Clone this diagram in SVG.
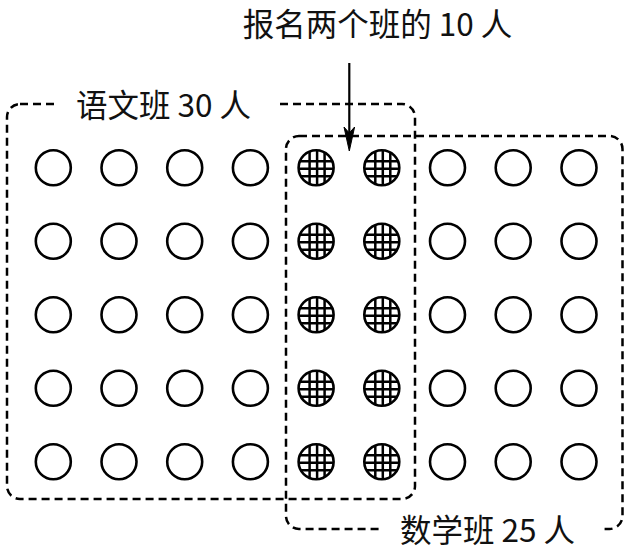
<svg xmlns="http://www.w3.org/2000/svg" xmlns:xlink="http://www.w3.org/1999/xlink" width="628" height="554" viewBox="0 0 628 554">
<style>
.box{fill:none;stroke:#000;stroke-width:2.5;stroke-dasharray:8 5}
.c{fill:none;stroke:#000;stroke-width:2.6}
.h{fill:none;stroke:#000;stroke-width:2.5}
.lbl{font-family:"Noto Sans CJK SC","Noto Sans",sans-serif;font-size:31.5px;fill:#111;text-anchor:middle}
.conn{stroke:#000;stroke-width:2.2;fill:none}
</style>
<defs>
<clipPath id="cc"><circle cx="0" cy="0" r="17.5"/></clipPath>
<g id="plain"><circle cx="0" cy="0" r="17.5" class="c"/></g>
<g id="hatched"><g clip-path="url(#cc)"><path class="h" d="M-6.5,-20V20M1,-20V20M8.5,-20V20M-20,-6.5H20M-20,1H20M-20,8.5H20"/></g><circle cx="0" cy="0" r="17.5" class="c"/></g>
</defs>
<rect width="628" height="554" fill="#fff"/>
<g id="chinese-class">
<rect class="box" x="7" y="104" width="408" height="395" rx="13"/>
<rect x="57" y="86" width="219" height="34" fill="#fff"/>
<text class="lbl" x="163.5" y="117">语文班 30 人</text>
</g>
<g id="math-class">
<rect class="box" x="286" y="136" width="336.5" height="393" rx="13"/>
<rect x="380" y="511" width="220" height="40" fill="#fff"/>
<text class="lbl" x="487.5" y="542">数学班 25 人</text>
</g>
<g id="both-label">
<text class="lbl" x="377.5" y="36">报名两个班的 10 人</text>
</g>
<g id="connectors">
<path class="conn" d="M349.3,63V134"/>
<path d="M349.3,151L344,127L349.3,133L354.6,127Z" fill="#000" stroke="#000" stroke-width="1"/>
</g>
<g id="r1c1" transform="translate(53.3,167.7)"><use xlink:href="#plain"/></g>
<g id="r1c2" transform="translate(119,167.7)"><use xlink:href="#plain"/></g>
<g id="r1c3" transform="translate(184.7,167.7)"><use xlink:href="#plain"/></g>
<g id="r1c4" transform="translate(250.4,167.7)"><use xlink:href="#plain"/></g>
<g id="r1c5" transform="translate(316.1,167.7)"><use xlink:href="#hatched"/></g>
<g id="r1c6" transform="translate(381.8,167.7)"><use xlink:href="#hatched"/></g>
<g id="r1c7" transform="translate(447.5,167.7)"><use xlink:href="#plain"/></g>
<g id="r1c8" transform="translate(513.2,167.7)"><use xlink:href="#plain"/></g>
<g id="r1c9" transform="translate(579,167.7)"><use xlink:href="#plain"/></g>
<g id="r2c1" transform="translate(53.3,241.2)"><use xlink:href="#plain"/></g>
<g id="r2c2" transform="translate(119,241.2)"><use xlink:href="#plain"/></g>
<g id="r2c3" transform="translate(184.7,241.2)"><use xlink:href="#plain"/></g>
<g id="r2c4" transform="translate(250.4,241.2)"><use xlink:href="#plain"/></g>
<g id="r2c5" transform="translate(316.1,241.2)"><use xlink:href="#hatched"/></g>
<g id="r2c6" transform="translate(381.8,241.2)"><use xlink:href="#hatched"/></g>
<g id="r2c7" transform="translate(447.5,241.2)"><use xlink:href="#plain"/></g>
<g id="r2c8" transform="translate(513.2,241.2)"><use xlink:href="#plain"/></g>
<g id="r2c9" transform="translate(579,241.2)"><use xlink:href="#plain"/></g>
<g id="r3c1" transform="translate(53.3,314.7)"><use xlink:href="#plain"/></g>
<g id="r3c2" transform="translate(119,314.7)"><use xlink:href="#plain"/></g>
<g id="r3c3" transform="translate(184.7,314.7)"><use xlink:href="#plain"/></g>
<g id="r3c4" transform="translate(250.4,314.7)"><use xlink:href="#plain"/></g>
<g id="r3c5" transform="translate(316.1,314.7)"><use xlink:href="#hatched"/></g>
<g id="r3c6" transform="translate(381.8,314.7)"><use xlink:href="#hatched"/></g>
<g id="r3c7" transform="translate(447.5,314.7)"><use xlink:href="#plain"/></g>
<g id="r3c8" transform="translate(513.2,314.7)"><use xlink:href="#plain"/></g>
<g id="r3c9" transform="translate(579,314.7)"><use xlink:href="#plain"/></g>
<g id="r4c1" transform="translate(53.3,388.2)"><use xlink:href="#plain"/></g>
<g id="r4c2" transform="translate(119,388.2)"><use xlink:href="#plain"/></g>
<g id="r4c3" transform="translate(184.7,388.2)"><use xlink:href="#plain"/></g>
<g id="r4c4" transform="translate(250.4,388.2)"><use xlink:href="#plain"/></g>
<g id="r4c5" transform="translate(316.1,388.2)"><use xlink:href="#hatched"/></g>
<g id="r4c6" transform="translate(381.8,388.2)"><use xlink:href="#hatched"/></g>
<g id="r4c7" transform="translate(447.5,388.2)"><use xlink:href="#plain"/></g>
<g id="r4c8" transform="translate(513.2,388.2)"><use xlink:href="#plain"/></g>
<g id="r4c9" transform="translate(579,388.2)"><use xlink:href="#plain"/></g>
<g id="r5c1" transform="translate(53.3,461.7)"><use xlink:href="#plain"/></g>
<g id="r5c2" transform="translate(119,461.7)"><use xlink:href="#plain"/></g>
<g id="r5c3" transform="translate(184.7,461.7)"><use xlink:href="#plain"/></g>
<g id="r5c4" transform="translate(250.4,461.7)"><use xlink:href="#plain"/></g>
<g id="r5c5" transform="translate(316.1,461.7)"><use xlink:href="#hatched"/></g>
<g id="r5c6" transform="translate(381.8,461.7)"><use xlink:href="#hatched"/></g>
<g id="r5c7" transform="translate(447.5,461.7)"><use xlink:href="#plain"/></g>
<g id="r5c8" transform="translate(513.2,461.7)"><use xlink:href="#plain"/></g>
<g id="r5c9" transform="translate(579,461.7)"><use xlink:href="#plain"/></g>
</svg>
